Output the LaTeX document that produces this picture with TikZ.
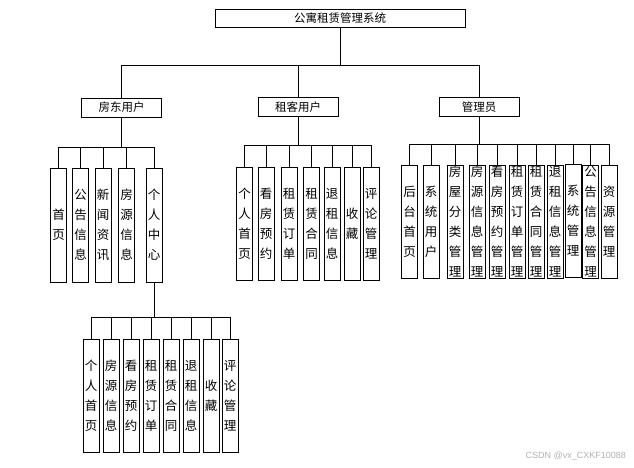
\documentclass[tikz,border=0pt]{standalone}
\usepackage{fontspec}
\newfontfamily\cjk{Noto Sans CJK SC}
\newfontfamily\wmfont{Liberation Sans}
\begin{document}
\begin{tikzpicture}[x=1pt,y=-1pt,
  box/.style={draw=black,line width=0.9pt,fill=white,inner sep=0pt,font=\cjk\fontsize{11.5}{14}\selectfont},
  leaf/.style={draw=black,line width=0.9pt,fill=white,inner sep=0pt,minimum width=16pt,align=center,font=\cjk\fontsize{12.5}{20}\selectfont},
  conn/.style={line width=0.9pt,draw=black}]
\useasboundingbox[fill=white] (0,0) rectangle (634,468);
% root
\node[box,minimum width=250pt,minimum height=18pt] (root) at (340,18) {公寓租赁管理系统};
% groups
\node[box,minimum width=80pt,minimum height=19pt] (g1) at (121.7,107.5) {房东用户};
\node[box,minimum width=80pt,minimum height=19pt] (g2) at (298,107) {租客用户};
\node[box,minimum width=80pt,minimum height=19pt] (g3) at (479,107) {管理员};
% group 1 leaves
\node[leaf,minimum height=114pt] (a1) at (58.5,225) {首\\页};
\node[leaf,minimum height=114pt] (a2) at (80.5,225) {公\\告\\信\\息};
\node[leaf,minimum height=114pt] (a3) at (103,225) {新\\闻\\资\\讯};
\node[leaf,minimum height=114pt] (a4) at (126.5,225) {房\\源\\信\\息};
\node[leaf,minimum height=114pt] (a5) at (154,225) {个\\人\\中\\心};
% group 2 leaves
\node[leaf,minimum height=113pt] (b1) at (244.5,223.5) {个\\人\\首\\页};
\node[leaf,minimum height=113pt] (b2) at (266,223.5) {看\\房\\预\\约};
\node[leaf,minimum height=113pt] (b3) at (289,223.5) {租\\赁\\订\\单};
\node[leaf,minimum height=113pt] (b4) at (311.5,223.5) {租\\赁\\合\\同};
\node[leaf,minimum height=113pt] (b5) at (332,223.5) {退\\租\\信\\息};
\node[leaf,minimum height=113pt] (b6) at (352,223.5) {收\\藏};
\node[leaf,minimum height=113pt] (b7) at (371,223.5) {评\\论\\管\\理};
% group 3 leaves
\node[leaf,minimum height=113pt] (c1) at (409.5,221.5) {后\\台\\首\\页};
\node[leaf,minimum height=113pt] (c2) at (431,221.5) {系\\统\\用\\户};
\node[leaf,minimum height=113pt] (c3) at (455,221.5) {房\\屋\\分\\类\\管\\理};
\node[leaf,minimum height=113pt] (c4) at (477,221.5) {房\\源\\信\\息\\管\\理};
\node[leaf,minimum height=113pt] (c5) at (497,221.5) {看\\房\\预\\约\\管\\理};
\node[leaf,minimum height=113pt] (c6) at (517,221.5) {租\\赁\\订\\单\\管\\理};
\node[leaf,minimum height=113pt] (c7) at (536,221.5) {租\\赁\\合\\同\\管\\理};
\node[leaf,minimum height=113pt] (c8) at (555,221.5) {退\\租\\信\\息\\管\\理};
\node[leaf,minimum height=113pt] (c9) at (573,221) {系\\统\\管\\理};
\node[leaf,minimum height=113pt] (c10) at (590.5,221.5) {公\\告\\信\\息\\管\\理};
\node[leaf,minimum height=113pt] (c11) at (609,221.5) {资\\源\\管\\理};
% sub leaves of 个人中心
\node[leaf,minimum height=113pt] (d1) at (91,395.5) {个\\人\\首\\页};
\node[leaf,minimum height=113pt] (d2) at (111,395.5) {房\\源\\信\\息};
\node[leaf,minimum height=113pt] (d3) at (131,395.5) {看\\房\\预\\约};
\node[leaf,minimum height=113pt] (d4) at (151,395.5) {租\\赁\\订\\单};
\node[leaf,minimum height=113pt] (d5) at (171,395.5) {租\\赁\\合\\同};
\node[leaf,minimum height=113pt] (d6) at (191,395.5) {退\\租\\信\\息};
\node[leaf,minimum height=113pt] (d7) at (211,395.5) {收\\藏};
\node[leaf,minimum height=113pt] (d8) at (230,395.5) {评\\论\\管\\理};
% bus coordinates
\coordinate (bus0) at (0,65.7);
\coordinate (bus1) at (0,147);
\coordinate (bus2) at (0,145);
\coordinate (bus3) at (0,144);
\coordinate (bus4) at (0,317.5);
% connectors
\foreach \c in {g1,g2,g3}
  \draw[conn] (root.south) -- (root.south |- bus0) -| (\c.north);
\foreach \c in {a1,a2,a3,a4,a5}
  \draw[conn] (g1.south) -- (g1.south |- bus1) -| (\c.north);
\foreach \c in {b1,b2,b3,b4,b5,b6,b7}
  \draw[conn] (g2.south) -- (g2.south |- bus2) -| (\c.north);
\foreach \c in {c1,c2,c3,c4,c5,c6,c7,c8,c9,c10,c11}
  \draw[conn] (g3.south) -- (g3.south |- bus3) -| (\c.north);
\foreach \c in {d1,d2,d3,d4,d5,d6,d7,d8}
  \draw[conn] (a5.south) -- (a5.south |- bus4) -| (\c.north);
% watermark
\node[text=black!30,font=\wmfont\fontsize{9}{10}\selectfont,anchor=east,inner sep=0pt] (wm) at (626,456) {CSDN @vx\_CXKF10088};
\end{tikzpicture}
\end{document}
